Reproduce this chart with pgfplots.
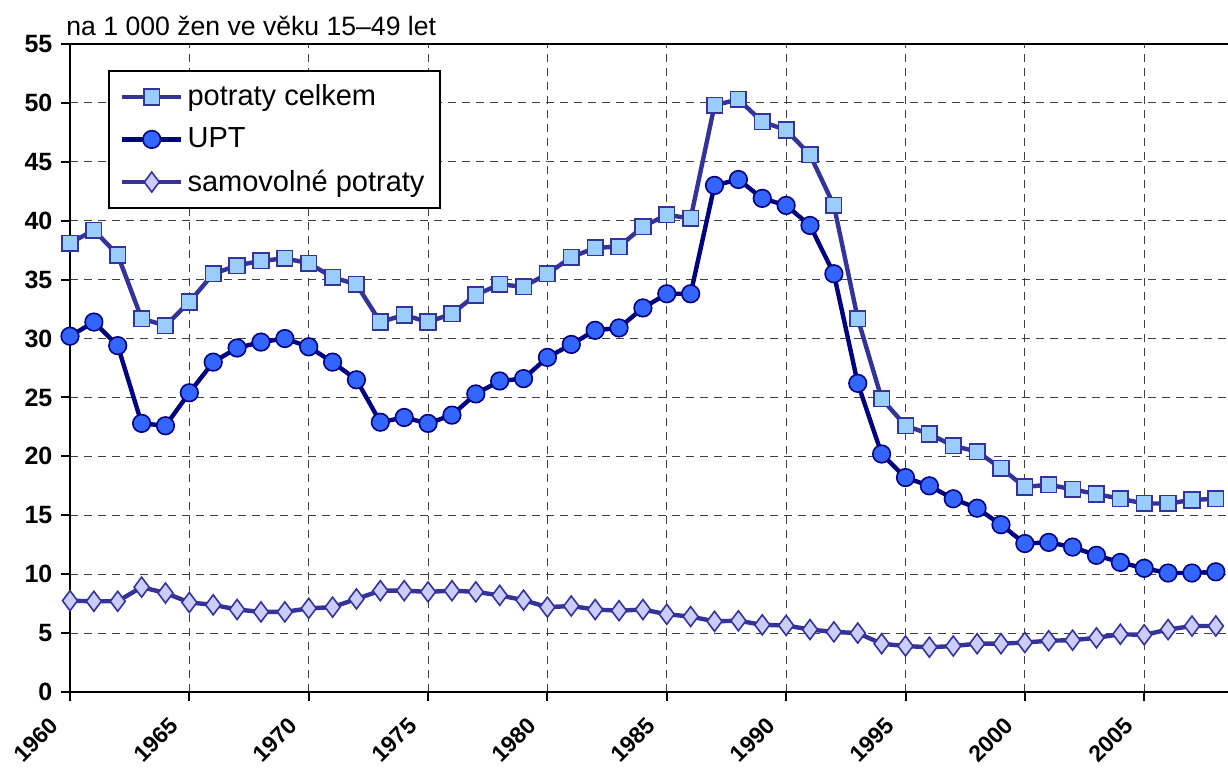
\documentclass[border=0pt]{standalone}
\usepackage{pgfplots}
\pgfplotsset{compat=1.18}
\usepackage{pgfplotstable}
\usepackage{fontspec}
\setmainfont{Liberation Sans}
\definecolor{lnA}{HTML}{333399}
\definecolor{fillA}{HTML}{99CCFF}
\definecolor{lnB}{HTML}{000080}
\definecolor{fillB}{HTML}{3366FF}
\definecolor{fillC}{HTML}{CCCCFF}
\pgfplotstableread{
year celkem upt samo
1960 38.1 30.2 7.75
1961 39.2 31.4 7.7
1962 37.1 29.4 7.7
1963 31.7 22.8 8.9
1964 31.1 22.6 8.4
1965 33.1 25.4 7.6
1966 35.5 28.0 7.4
1967 36.2 29.2 7.0
1968 36.6 29.7 6.8
1969 36.8 30.0 6.8
1970 36.4 29.3 7.1
1971 35.2 28.0 7.2
1972 34.6 26.5 7.9
1973 31.4 22.9 8.6
1974 32.0 23.3 8.6
1975 31.4 22.8 8.5
1976 32.1 23.5 8.6
1977 33.7 25.3 8.5
1978 34.6 26.4 8.2
1979 34.4 26.6 7.8
1980 35.5 28.4 7.2
1981 36.9 29.5 7.3
1982 37.7 30.7 7.0
1983 37.8 30.9 6.9
1984 39.5 32.6 7.0
1985 40.5 33.8 6.6
1986 40.2 33.8 6.4
1987 49.8 43.0 6.0
1988 50.3 43.5 6.05
1989 48.4 41.9 5.7
1990 47.7 41.3 5.65
1991 45.6 39.6 5.3
1992 41.3 35.5 5.1
1993 31.7 26.2 5.0
1994 24.9 20.2 4.1
1995 22.6 18.2 3.9
1996 21.9 17.5 3.8
1997 20.9 16.4 3.9
1998 20.4 15.6 4.1
1999 19.0 14.2 4.1
2000 17.4 12.6 4.2
2001 17.6 12.7 4.35
2002 17.2 12.3 4.4
2003 16.8 11.6 4.6
2004 16.4 11.0 4.9
2005 16.0 10.5 4.85
2006 16.0 10.1 5.3
2007 16.3 10.1 5.6
2008 16.4 10.2 5.6
}\datatable
\begin{document}
\begin{tikzpicture}
\useasboundingbox (-35pt,-37.5pt) rectangle (579pt,346pt);
\begin{axis}[
  scale only axis, width=579pt, height=324pt,
  at={(0,0)}, anchor=south west,
  xmin=1960, xmax=2008.51, ymin=0, ymax=55,
  axis x line*=bottom, axis y line*=left,
  axis line style={line width=1.1pt, -},
  xtick={1960,1965,...,2005}, ytick={0,5,...,55},
  tick align=outside, major tick length=4.5pt,
  tick style={line width=1pt, black},
  grid=major,
  major grid style={dashed, dash pattern=on 4pt off 3pt, line width=0.45pt, black!75},
  /pgf/number format/assume math mode=true,
  /pgf/number format/1000 sep={},
  ticklabel style={font=\fontsize{12.5}{14}\selectfont\bfseries},
  xticklabel style={font=\fontsize{11.5}{13}\selectfont\bfseries, xshift=-5.3pt, yshift=-8pt, rotate=45, anchor=east},
  yticklabel style={xshift=-0.8pt},
  clip=false,
  legend cell align=left,
  legend style={at={(0.0328,0.96)}, anchor=north west, draw=black, line width=1pt,
    font=\fontsize{14.5}{17}\selectfont, inner xsep=5.5pt, inner ysep=5pt,
    row sep=5.5pt},
  legend image code/.code={\draw[mark repeat=2,mark phase=2] plot coordinates {(0cm,0cm) (0.52cm,0cm) (1.04cm,0cm)};},
]
\addplot[color=lnA, line width=2.2pt, mark=square*, mark size=3.9pt,
  mark options={fill=fillA, draw=lnA, line width=0.8pt, solid}] table[x=year,y=celkem]{\datatable};
\addlegendentry{potraty celkem}
\addplot[color=lnB, line width=2.2pt, mark=*, mark size=4.4pt,
  mark options={fill=fillB, draw=lnB, line width=0.8pt, solid}] table[x=year,y=upt]{\datatable};
\addlegendentry{UPT}
\addplot[color=lnA, line width=2.2pt, mark=diamond*, mark size=5pt,
  mark options={fill=fillC, draw=lnA, line width=0.8pt, solid}] table[x=year,y=samo]{\datatable};
\addlegendentry{samovolné potraty}
\draw[line width=1.1pt, black] (rel axis cs:0,1) -- (rel axis cs:1,1);
\node[anchor=base west, inner sep=0pt, font=\fontsize{13.3}{15}\selectfont] at ([xshift=-2pt,yshift=4.5pt]rel axis cs:0,1) {na 1 000 žen ve věku 15–49 let};
\end{axis}
\end{tikzpicture}
\end{document}
